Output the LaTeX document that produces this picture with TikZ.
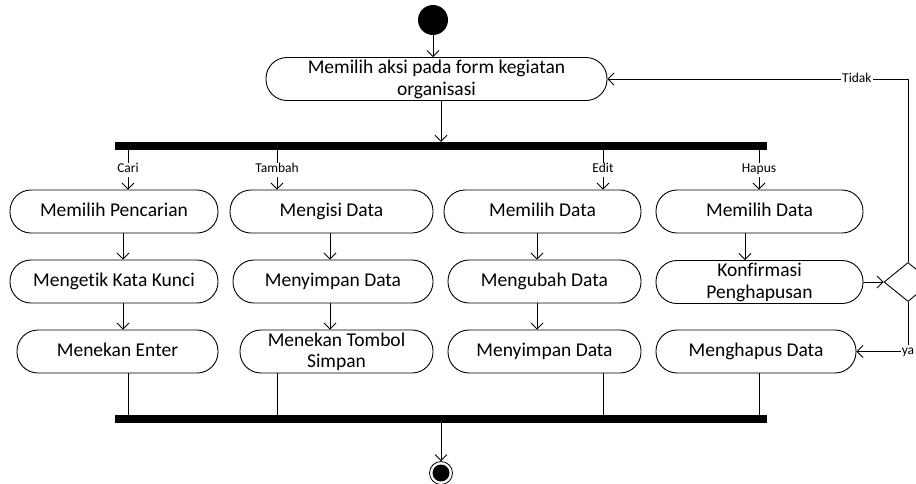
\documentclass[tikz,border=0pt]{standalone}
\usepackage{fontspec}
\setmainfont{Carlito}[Ligatures=NoCommon]
\usetikzlibrary{arrows.meta,shapes.geometric}
\begin{document}
\begin{tikzpicture}[x=1pt,y=-1pt,
  act/.style={draw,rectangle,rounded corners=21pt,minimum height=43pt,inner sep=1pt,align=center,
    font=\fontsize{19.5}{22}\selectfont,line width=0.9pt},
  one/.style={text height=13pt,text depth=4pt},
  bar/.style={fill=black,minimum height=8pt,inner sep=0pt},
  arr/.style={line width=0.8pt,-{Straight Barb[length=6pt,width=12pt]}},
  ln/.style={line width=0.8pt},
  lbl/.style={fill=white,inner sep=1pt,text height=9pt,text depth=3pt,font=\fontsize{13.5}{14}\selectfont}]
\useasboundingbox (0,0) rectangle (916,483);
\clip (0,0) rectangle (916,483);

% x positions of connectors
\coordinate (xa) at (128,0);
\coordinate (xab) at (123,0);
\coordinate (xb) at (277,0);
\coordinate (xbb) at (330,0);
\coordinate (xc) at (603,0);
\coordinate (xcb) at (537,0);
\coordinate (xd) at (759,0);
\coordinate (xdb) at (745,0);

\node[circle,fill=black,minimum size=30pt,inner sep=0pt] (start) at (433,20) {};
\node[act,minimum width=341pt] (top) at (436.5,79) {Memilih aksi pada form kegiatan\\organisasi};
\node[bar,minimum width=652pt] (bar1) at (441,146) {};
\node[bar,minimum width=652pt] (bar2) at (441,419) {};

\node[act,one,minimum width=208pt] (a1) at (114,211.5) {Memilih Pencarian};
\node[act,one,minimum width=208pt] (a2) at (114,281.5) {Mengetik Kata Kunci};
\node[act,one,minimum width=201pt] (a3) at (117.5,351.5) {Menekan Enter};

\node[act,one,minimum width=203pt] (b1) at (331.5,211.5) {Mengisi Data};
\node[act,one,minimum width=200pt] (b2) at (333,281.5) {Menyimpan Data};
\node[act,minimum width=193pt,font=\fontsize{19.5}{21}\selectfont] (b3) at (336.5,351.5) {Menekan Tombol\\Simpan};

\node[act,one,minimum width=197pt] (c1) at (542.5,211.5) {Memilih Data};
\node[act,one,minimum width=193pt] (c2) at (544.5,281.5) {Mengubah Data};
\node[act,one,minimum width=193pt] (c3) at (544.5,351.5) {Menyimpan Data};

\node[act,one,minimum width=207pt] (d1) at (759.5,211.5) {Memilih Data};
\node[act,minimum width=207pt] (d2) at (759.5,282) {Konfirmasi\\Penghapusan};
\node[act,one,minimum width=200pt] (d3) at (756,351.5) {Menghapus Data};

\node[diamond,draw,line width=0.9pt,minimum width=48pt,minimum height=39pt,inner sep=0pt] (dec) at (908,282) {};

\node[circle,draw,line width=0.8pt,fill=white,minimum size=23pt,inner sep=0pt] (end) at (441,473) {};
\node[circle,fill=black,minimum size=17pt,inner sep=0pt] (endin) at (end.center) {};

% connectors
\draw[arr] (start) -- (start |- top.north);
\draw[arr] (top.south -| bar1.north) -- (bar1.north);

\draw[arr] (bar1.south -| xa) -- node[lbl]{Cari} (a1.north -| xa);
\draw[arr] (bar1.south -| xb) -- node[lbl]{Tambah} (b1.north -| xb);
\draw[arr] (bar1.south -| xc) -- node[lbl]{Edit} (c1.north -| xc);
\draw[arr] (bar1.south -| xd) -- node[lbl]{Hapus} (d1.north -| xd);

\draw[arr] (a1.south -| xab) -- (a2.north -| xab);
\draw[arr] (a2.south -| xab) -- (a3.north -| xab);
\draw[arr] (b1.south -| xbb) -- (b2.north -| xbb);
\draw[arr] (b2.south -| xbb) -- (b3.north -| xbb);
\draw[arr] (c1.south -| xcb) -- (c2.north -| xcb);
\draw[arr] (c2.south -| xcb) -- (c3.north -| xcb);
\draw[arr] (d1.south -| xdb) -- (d2.north -| xdb);

\draw[ln] (a3.south -| xa) -- (bar2.north -| xa);
\draw[ln] (b3.south -| xb) -- (bar2.north -| xb);
\draw[ln] (c3.south -| xc) -- (bar2.north -| xc);
\draw[ln] (d3.south -| xd) -- (bar2.north -| xd);

\draw[arr] (d2.east) -- (dec.west);
\draw[arr] (dec.north) |- node[lbl,pos=0.585]{Tidak} (top.east);
\draw[arr] (dec.south) |- node[lbl,pos=0.5]{ya} (d3.east);

\draw[arr] (bar2.south) -- (end.north);
\end{tikzpicture}
\end{document}
